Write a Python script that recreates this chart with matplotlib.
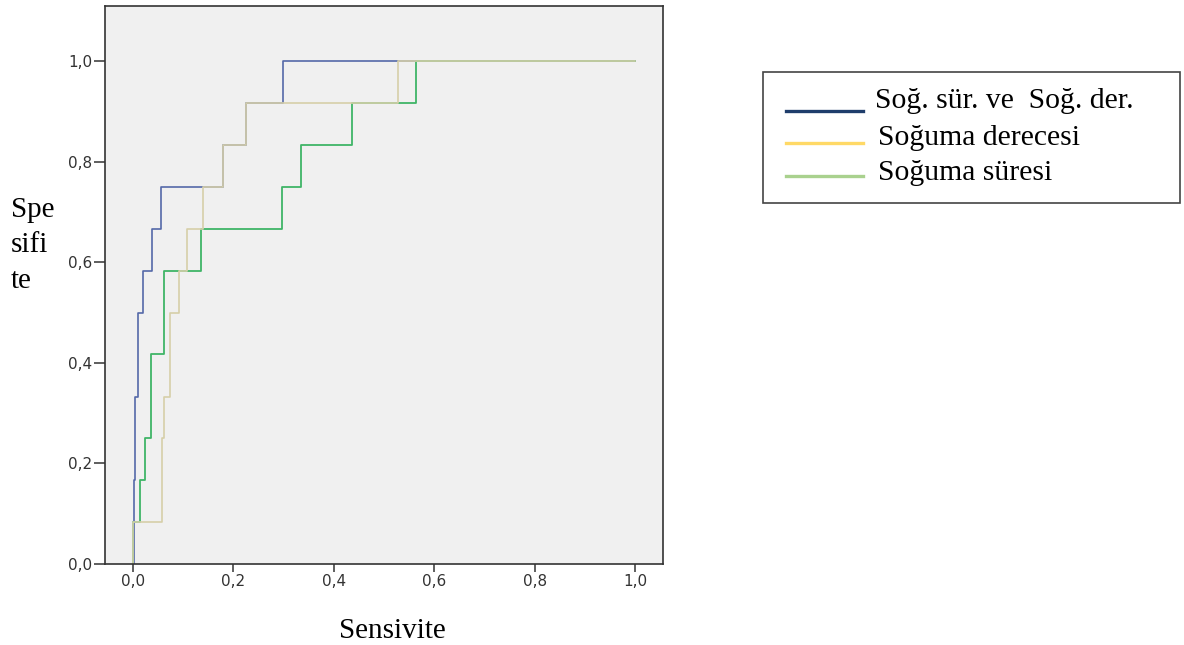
import matplotlib
matplotlib.use('Agg')
import matplotlib.pyplot as plt
from matplotlib.lines import Line2D
from matplotlib.patches import Rectangle

# ROC corner points (1 - specificity on x, sensitivity on y)
fpr_both = [0.0, 0.002, 0.005, 0.0106, 0.0206, 0.0385, 0.057, 0.18, 0.225, 0.30, 1.0]
tpr_both = [0.0, 0.167, 0.333, 0.500, 0.583, 0.667, 0.750, 0.833, 0.917, 1.0, 1.0]

fpr_derece = [0.0, 0.0, 0.059, 0.062, 0.074, 0.092, 0.109, 0.140, 0.180, 0.225, 0.529, 1.0]
tpr_derece = [0.0, 0.083, 0.250, 0.333, 0.500, 0.583, 0.667, 0.750, 0.833, 0.917, 1.0, 1.0]

fpr_sure = [0.0, 0.0, 0.014, 0.024, 0.037, 0.062, 0.137, 0.298, 0.336, 0.436, 0.563, 1.0]
tpr_sure = [0.0, 0.083, 0.167, 0.250, 0.417, 0.583, 0.667, 0.750, 0.833, 0.917, 1.0, 1.0]

tick_vals = [0.0, 0.2, 0.4, 0.6, 0.8, 1.0]
tick_labels = ['0,0', '0,2', '0,4', '0,6', '0,8', '1,0']

legend_labels = ['Soğ. sür. ve  Soğ. der.', 'Soğuma derecesi', 'Soğuma süresi']
legend_colors = ['#1f3d6b', '#ffd966', '#a9d18e']

serif = ['Liberation Serif', 'DejaVu Serif']

W, H = 1184, 645
fig = plt.figure(figsize=(W / 100, H / 100), dpi=100)
ax = fig.add_axes([105 / W, 1 - 564 / H, (662.7 - 105) / W, (564 - 5.7) / H])
ax.set_facecolor('#f0f0f0')

# plot order: blue, green, tan on top
ax.plot(fpr_both, tpr_both, drawstyle='steps-post', color='#5569a8', lw=1.2)
ax.plot(fpr_sure, tpr_sure, drawstyle='steps-post', color='#3fb567', lw=1.3)
ax.plot(fpr_derece, tpr_derece, drawstyle='steps-post', color='#d6cfa9', lw=1.2)

ax.set_xlim(-0.055, 1.055)
ax.set_ylim(0, 1.111)
ax.set_xticks(tick_vals)
ax.set_xticklabels(tick_labels)
ax.set_yticks(tick_vals)
ax.set_yticklabels(tick_labels)
ax.tick_params(axis='x', length=6, width=1.1, pad=1.5, labelsize=11,
               colors='#333333')
ax.tick_params(axis='y', length=8, width=1.1, pad=1, labelsize=11,
               colors='#333333')
for s in ax.spines.values():
    s.set_color('#333333')
    s.set_linewidth(1.2)

# axis titles in serif, placed like the original
fig.text(11 / W, 1 - 216.7 / H, 'Spe', family=serif, fontsize=21, va='baseline')
fig.text(11 / W, 1 - 251.7 / H, 'sifi', family=serif, fontsize=21, va='baseline')
fig.text(11 / W, 1 - 288 / H, 'te', family=serif, fontsize=21, va='baseline')
fig.text(339 / W, 1 - 638 / H, 'Sensivite', family=serif, fontsize=21,
         va='baseline')

# legend box
fig.add_artist(Rectangle((763 / W, 1 - 203 / H), (1180 - 763) / W, (203 - 72) / H,
                         transform=fig.transFigure, facecolor='white',
                         edgecolor='#444444', lw=1.2))
line_y = [110.7, 142.7, 176]
text_y = [108, 145, 180]
text_x = [875, 878, 878]
for lab, col, ly, ty, tx in zip(legend_labels, legend_colors, line_y, text_y, text_x):
    fig.add_artist(Line2D([786 / W, 862.7 / W], [1 - ly / H, 1 - ly / H],
                          transform=fig.transFigure, color=col, lw=2.4))
    fig.text(tx / W, 1 - ty / H, lab, family=serif, fontsize=21.3, va='baseline')

fig.savefig('out.png', dpi=100)
